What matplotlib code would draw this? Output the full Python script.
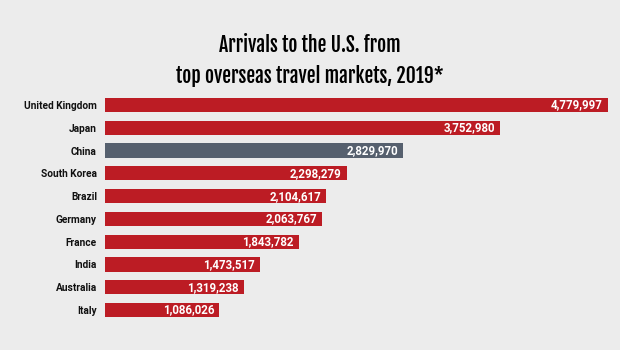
import matplotlib
matplotlib.use("Agg")
import matplotlib.pyplot as plt
from matplotlib import font_manager

countries = ["United Kingdom", "Japan", "China", "South Korea", "Brazil",
             "Germany", "France", "India", "Australia", "Italy"]
arrivals = [4779997, 3752980, 2829970, 2298279, 2104617,
            2063767, 1843782, 1473517, 1319238, 1086026]
highlight = "China"
title_lines = ["Arrivals to the U.S. from", "top overseas travel markets, 2019*"]

RED = "#bc1c24"
GREY = "#56606e"
BG = "#ececec"

fonts = font_manager.fontManager.ttflist


def pick(cands, minw=0):
    for c in cands:
        if any(f.name == c and int(f.weight) >= minw for f in fonts):
            return c
    return "DejaVu Sans"


# condensed heavy face for the title (Fjalla One is bold by design)
title_font = pick(["Fjalla One"])
if title_font == "DejaVu Sans":
    title_font = pick(["Roboto Condensed", "Archivo Narrow", "Barlow Condensed"], 600)
label_font = pick(["Roboto", "Archivo", "Lato"], 600)

fig = plt.figure(figsize=(6.2, 3.5), dpi=100, facecolor=BG)
ax = fig.add_axes([105 / 620, 1 - 321.4 / 350, 503 / 620, (321.4 - 93.6) / 350])
ax.set_facecolor(BG)

ypos = list(range(len(countries)))
colors = [GREY if c == highlight else RED for c in countries]
ax.barh(ypos, arrivals, height=0.62, color=colors, edgecolor="none")

ax.set_xlim(0, max(arrivals))
ax.set_ylim(len(countries) - 0.5, -0.5)
ax.set_xticks([])
ax.set_yticks(ypos)
ax.set_yticklabels(countries, fontsize=7.3, fontweight="bold", family=label_font,
                   color="#111111")
ax.tick_params(axis="y", length=0, pad=5.8)
for s in ax.spines.values():
    s.set_visible(False)

for y, v in zip(ypos, arrivals):
    ax.annotate(f"{v:,}", (v, y), xytext=(-3.6, 0), textcoords="offset points",
                ha="right", va="center", color="white", fontsize=8.3,
                fontweight="bold", family=label_font)

# title: size it so the second line is ~268 px wide as in the reference
t1 = fig.text(0.5, 1 - 45 / 350, title_lines[0], ha="center", va="center",
              fontsize=19, fontweight="bold", family=title_font, color="black")
t2 = fig.text(0.5, 1 - 76 / 350, title_lines[1], ha="center", va="center",
              fontsize=19, fontweight="bold", family=title_font, color="black")
r = fig.canvas.get_renderer()
w = t2.get_window_extent(r).width
size = min(19 * 268 / w, 19)
t1.set_fontsize(size)
t2.set_fontsize(size)

fig.savefig("out.png", dpi=100, facecolor=BG)
